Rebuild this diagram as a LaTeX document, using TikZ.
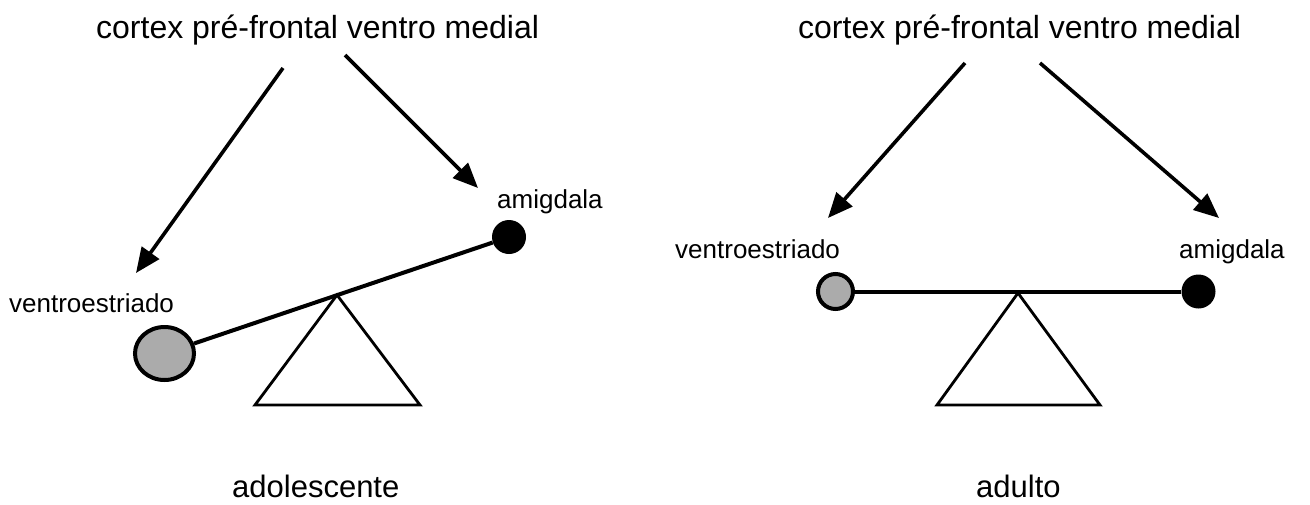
\documentclass[tikz,border=0pt]{standalone}
\usepackage{fontspec}
\setmainfont{Liberation Sans}
\usetikzlibrary{arrows.meta,shapes.geometric}

\definecolor{ballgray}{gray}{0.67}

\tikzset{
  title/.style={anchor=base west,inner sep=0pt,font=\fontsize{32}{38}\selectfont},
  label/.style={anchor=base west,inner sep=0pt,font=\fontsize{26}{31}\selectfont},
  caption/.style={anchor=base west,inner sep=0pt,font=\fontsize{31}{37}\selectfont},
  pointer/.style={line width=3.6pt,-{Triangle[length=25pt,width=21pt]}},
  beam/.style={line width=4pt},
  fulcrum/.style={line width=2.8pt,line join=miter},
  darkball/.style={circle,fill=black,inner sep=0pt,minimum size=34pt},
  lightball/.style={fill=ballgray,draw=black,line width=4pt,inner sep=0pt},
}

\begin{document}
\begin{tikzpicture}[x=1pt,y=-1pt]
\useasboundingbox (0,0) rectangle (1310,504);

% ---- adolescente: tilted balance ----
\node[title] (t1) at (96,38) {cortex pré-frontal ventro medial};
\coordinate (t1a) at (283,68);
\coordinate (t1b) at (345,55);
\node[label] (vs1lab) at (9,312) {ventroestriado};
\node[label] (am1lab) at (497,208) {amigdala};
\node[lightball,ellipse,minimum width=59pt,minimum height=53pt] (vs1) at (164.5,353.5) {};
\node[darkball] (am1) at (509,237) {};
\coordinate (vs1tip) at (136,273);
\coordinate (am1tip) at (478,188);
\draw[pointer] (t1a) -- (vs1tip);
\draw[pointer] (t1b) -- (am1tip);
\draw[beam] (vs1) -- (am1);
\coordinate (p1) at (337,295);
\draw[fulcrum] (p1) -- (420,405) -- (255,405) -- cycle;
\node[caption] (c1) at (232,497) {adolescente};

% ---- adulto: level balance ----
\node[title] (t2) at (798,38) {cortex pré-frontal ventro medial};
\coordinate (t2a) at (965,63);
\coordinate (t2b) at (1040,63);
\node[label] (vs2lab) at (675,258) {ventroestriado};
\node[label] (am2lab) at (1179,258) {amigdala};
\node[lightball,circle,minimum size=35pt] (vs2) at (835.5,291.5) {};
\node[darkball] (am2) at (1198.5,291.5) {};
\coordinate (vs2tip) at (828,218);
\coordinate (am2tip) at (1219,218);
\draw[pointer] (t2a) -- (vs2tip);
\draw[pointer] (t2b) -- (am2tip);
\draw[beam] (vs2) -- (am2);
\coordinate (p2) at (1018,293);
\draw[fulcrum] (p2) -- (1100,405) -- (937,405) -- cycle;
\node[caption] (c2) at (976,497) {adulto};
\end{tikzpicture}
\end{document}
